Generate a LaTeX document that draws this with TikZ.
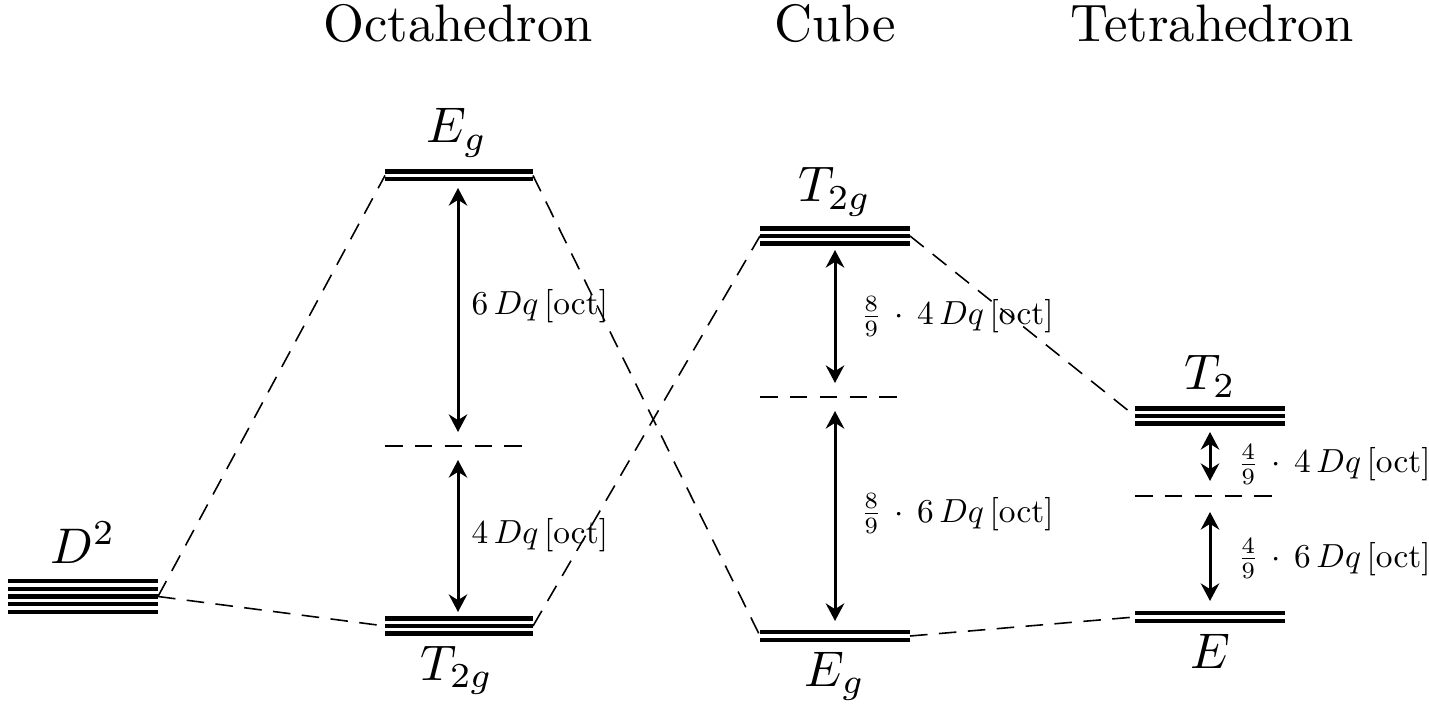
\documentclass[tikz,border=0pt]{standalone}
\usetikzlibrary{arrows.meta}
\newcommand\levelstack[5]{%
  \foreach \i in {1,...,#5}{%
    \draw[lvl] (#2,{#4+(\i-(#5+1)/2)*7.6}) -- (#3,{#4+(\i-(#5+1)/2)*7.6});
  }%
  \coordinate (#1-w) at (#2,#4);
  \coordinate (#1-e) at (#3,#4);
}
\begin{document}
\begin{tikzpicture}[x=0.02cm,y=-0.02cm,
  lvl/.style={line width=2.5pt},
  conn/.style={line width=0.9pt, dash pattern=on 10pt off 6.5pt},
  midlvl/.style={line width=1.4pt, dash pattern=on 10pt off 7pt},
  gap/.style={line width=1.7pt, {Stealth[length=10pt,width=10.5pt]}-{Stealth[length=10pt,width=10.5pt]}},
  title/.style={scale=3.0, anchor=base, inner sep=0pt},
  lab/.style={scale=2.85, anchor=base, inner sep=0pt},
  glab/.style={scale=1.9, anchor=base west, inner sep=0pt}]
\useasboundingbox (0,0) rectangle (1429,715);

% titles
\node[title] (tOct) at (458,42) {Octahedron};
\node[title] (tCub) at (835,42) {Cube};
\node[title] (tTet) at (1212,42) {Tetrahedron};

% levels
\levelstack{D2}{8}{158}{596.5}{5}
\levelstack{oE}{385}{533}{175.5}{2}
\levelstack{oT}{385}{533}{626}{3}
\levelstack{cT}{760}{910}{236}{3}
\levelstack{cE}{760}{910}{636}{2}
\levelstack{tT}{1135}{1285}{416}{3}
\levelstack{tE}{1135}{1285}{617}{2}

% barycentre (dashed) levels
\coordinate (oM-w) at (385,446); \coordinate (oM-e) at (530,446);
\coordinate (cM-w) at (760,397); \coordinate (cM-e) at (905,397);
\coordinate (tM-w) at (1135,496); \coordinate (tM-e) at (1280,496);
\draw[midlvl] (oM-w) -- (oM-e);
\draw[midlvl] (cM-w) -- (cM-e);
\draw[midlvl] (tM-w) -- (tM-e);

% level labels
\node[lab] (lD2) at (83,563) {$D^2$};
\node[lab] (loE) at (457,143) {$E_g$};
\node[lab] (loT) at (457,680) {$T_{2g}$};
\node[lab] (lcT) at (835,202) {$T_{2g}$};
\node[lab] (lcE) at (835,686) {$E_g$};
\node[lab] (ltT) at (1210,390) {$T_2$};
\node[lab] (ltE) at (1210,668) {$E$};

% connectors
\draw[conn] (D2-e) -- (oE-w);
\draw[conn] (D2-e) -- (oT-w);
\draw[conn] (oE-e) -- (cE-w);
\draw[conn] (oT-e) -- (cT-w);
\draw[conn] (cT-e) -- (tT-w);
\draw[conn] (cE-e) -- (tE-w);

% gap arrows
\coordinate (oa1) at (458,188); \coordinate (oa2) at (458,432);
\coordinate (oa3) at (458,460); \coordinate (oa4) at (458,612);
\coordinate (ca1) at (835,250); \coordinate (ca2) at (835,383);
\coordinate (ca3) at (835,411); \coordinate (ca4) at (835,621);
\coordinate (ta1) at (1210,432); \coordinate (ta2) at (1210,481);
\coordinate (ta3) at (1210,512); \coordinate (ta4) at (1210,601);
\draw[gap] (oa1) -- (oa2);
\draw[gap] (oa3) -- (oa4);
\draw[gap] (ca1) -- (ca2);
\draw[gap] (ca3) -- (ca4);
\draw[gap] (ta1) -- (ta2);
\draw[gap] (ta3) -- (ta4);

% gap labels
\node[glab] (go1) at (471,315) {$6\,Dq\,[\mathrm{oct}]$};
\node[glab] (go2) at (471,543) {$4\,Dq\,[\mathrm{oct}]$};
\node[glab] (gc1) at (860,325) {$\frac{8}{9}\,\cdot\,4\,Dq\,[\mathrm{oct}]$};
\node[glab] (gc2) at (860,522) {$\frac{8}{9}\,\cdot\,6\,Dq\,[\mathrm{oct}]$};
\node[glab] (gt1) at (1237,473) {$\frac{4}{9}\,\cdot\,4\,Dq\,[\mathrm{oct}]$};
\node[glab] (gt2) at (1237,567) {$\frac{4}{9}\,\cdot\,6\,Dq\,[\mathrm{oct}]$};
\end{tikzpicture}
\end{document}
